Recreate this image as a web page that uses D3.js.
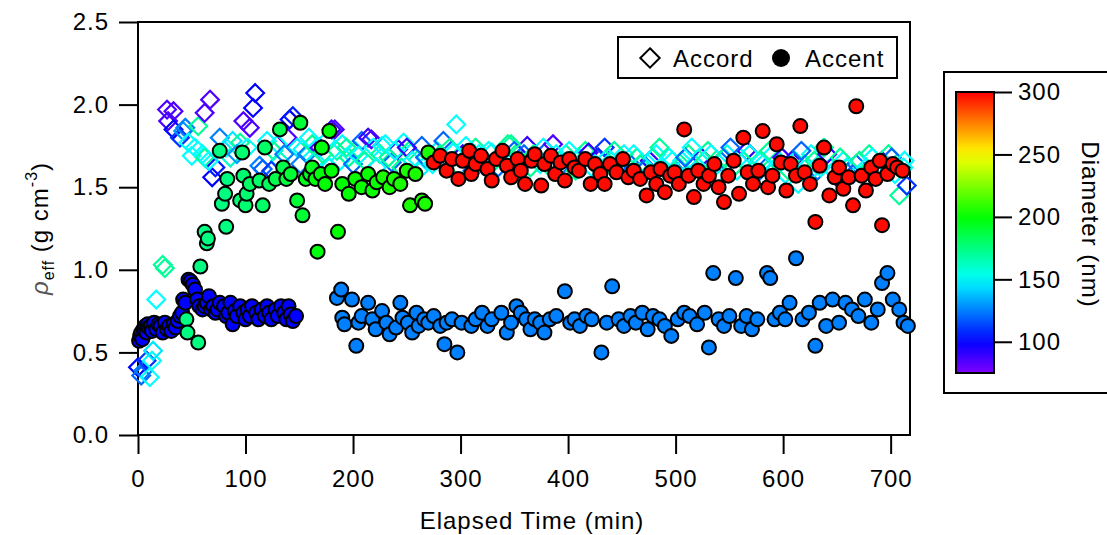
<!DOCTYPE html>
<html>
<head>
<meta charset="utf-8">
<script src="https://cdn.jsdelivr.net/npm/d3@7/dist/d3.min.js"></script>
<style>
  body { margin: 0; background: #fff; }
  text { font-family: "Liberation Sans", Arial, sans-serif; font-size: 24px; letter-spacing: 1px; fill: #000; }
</style>
</head>
<body>
<div id="chart"></div>
<script>
// Accent (filled circles): [elapsed time (min), rho_eff, diameter (nm)]
const accentSmall = [
  [1,0.57,100],[2,0.60,100],[3,0.62,100],[4,0.58,100],[5,0.64,100],[6,0.63,100],[7,0.66,100],[8,0.62,100],
  [9,0.67,100],[10,0.65,100],[12,0.66,100],[13,0.63,100],[15,0.68,100],[17,0.64,100],[19,0.67,100],[21,0.66,100],
  [23,0.62,100],[25,0.68,100],[27,0.64,100],[29,0.66,100],[31,0.63,100],[33,0.67,100],[35,0.65,100],[37,0.69,100],
  [39,0.72,100],[41,0.74,100],[42,0.82,100],[44,0.80,100],[47,0.94,100],[49,0.93,100],[51,0.91,100],[53,0.88,100],
  [55,0.82,100],[57,0.78,100],[60,0.76,100],[62,0.78,100],[64,0.80,100],[66,0.84,100],[68,0.76,100],[70,0.78,100],
  [72,0.74,100],[74,0.76,100],[76,0.80,100],[80,0.78,100],[82,0.72,100],[84,0.74,100],[86,0.80,100],[88,0.67,100],
  [90,0.75,100],[92,0.72,100],[95,0.78,100],[98,0.74,100],[100,0.70,100],[102,0.76,100],[104,0.72,100],[106,0.78,100],
  [110,0.74,100],[112,0.70,100],[115,0.76,100],[118,0.72,100],[120,0.78,100],[122,0.74,100],[124,0.70,100],[128,0.76,100],
  [130,0.72,100],[133,0.78,100],[136,0.74,100],[138,0.70,100],[140,0.78,100],[142,0.73,100],[144,0.69,100],[147,0.72,100]
];
const accentMid = [
  [45,0.70,175],[46,0.62,175],[56,0.56,175],[58,1.02,175],[62,1.23,175],[64,1.16,175],[65,1.19,175],[76,1.72,175],
  [78,1.40,175],[81,1.46,175],[82,1.26,175],[83,1.55,175],[95,1.42,178],[97,1.71,178],[98,1.57,178],[100,1.39,178],
  [101,1.46,178],[104,1.52,180],[113,1.54,180],[116,1.39,180],[118,1.74,180],[122,1.52,182],[128,1.55,185],[132,1.85,185],
  [135,1.62,185],[138,1.55,188],[142,1.58,190],[148,1.42,190],[151,1.89,190],[153,1.33,190],[156,1.55,195],[160,1.58,195],
  [162,1.62,195],[165,1.55,198],[167,1.11,198],[170,1.58,198],[171,1.74,198],[174,1.52,200],[178,1.84,200],[180,1.60,200],
  [186,1.23,200],[190,1.52,200],[196,1.46,200],[202,1.55,202],[208,1.50,202],[214,1.58,202],[218,1.48,202],[222,1.53,202],
  [228,1.56,205],[234,1.50,205],[238,1.55,205],[244,1.52,205],[250,1.60,205],[253,1.39,205],[258,1.58,205],[264,1.42,205],
  [267,1.40,205],[270,1.71,205]
];
const accentAzure = [
  [185,0.83,125],[189,0.88,125],[190,0.71,125],[192,0.67,125],[199,0.82,125],[203,0.54,125],[205,0.68,125],[208,0.72,125],
  [214,0.80,125],[218,0.70,125],[221,0.64,125],[227,0.75,125],[231,0.68,125],[234,0.61,125],[240,0.65,125],[244,0.80,125],
  [246,0.71,125],[251,0.68,125],[255,0.62,125],[259,0.74,125],[261,0.66,125],[266,0.70,125],[270,0.68,125],[275,0.72,125],
  [281,0.66,125],[285,0.55,125],[287,0.68,125],[292,0.70,125],[297,0.50,125],[301,0.68,125],[310,0.66,125],[314,0.70,125],
  [320,0.74,125],[325,0.66,125],[329,0.70,125],[338,0.74,125],[343,0.62,125],[347,0.68,125],[352,0.78,125],[356,0.74,125],
  [361,0.70,125],[365,0.64,125],[369,0.70,125],[374,0.68,125],[378,0.62,125],[383,0.70,125],[389,0.72,125],[397,0.87,125],
  [402,0.68,125],[406,0.70,125],[411,0.66,125],[417,0.72,125],[422,0.70,125],[431,0.50,125],[436,0.68,125],[441,0.90,125],
  [447,0.70,125],[452,0.66,125],[458,0.72,125],[463,0.68,125],[469,0.74,125],[474,0.64,125],[479,0.72,125],[485,0.70,125],
  [490,0.66,125],[496,0.60,125],[502,0.70,125],[508,0.74,125],[513,0.72,125],[520,0.67,125],[527,0.74,125],[531,0.53,125],
  [535,0.98,125],[540,0.70,125],[545,0.66,125],[550,0.72,125],[556,0.95,125],[561,0.66,125],[566,0.72,125],[571,0.64,125],
  [576,0.70,125],[585,0.98,125],[588,0.95,125],[592,0.70,125],[597,0.74,125],[602,0.70,125],[606,0.80,125],[612,1.07,125],
  [618,0.70,125],[624,0.74,125],[630,0.54,125],[634,0.80,125],[640,0.66,125],[646,0.82,125],[652,0.68,125],[658,0.80,125],
  [664,0.76,125],[670,0.72,125],[676,0.82,125],[682,0.68,125],[688,0.76,125],[692,0.92,125],[697,0.98,125],[702,0.82,125],
  [708,0.76,125],[712,0.68,125],[716,0.66,125]
];
const accentLarge = [
  [275,1.65,298],[281,1.69,298],[287,1.60,298],[292,1.67,298],[298,1.55,298],[302,1.66,298],[308,1.72,298],[310,1.58,298],
  [314,1.64,298],[319,1.69,298],[325,1.61,298],[329,1.54,298],[333,1.67,298],[339,1.72,298],[343,1.63,298],[347,1.56,298],
  [353,1.67,298],[356,1.60,298],[360,1.52,298],[366,1.66,298],[369,1.70,298],[375,1.51,298],[378,1.64,298],[384,1.69,298],
  [388,1.58,298],[393,1.65,298],[397,1.54,298],[401,1.67,298],[406,1.62,298],[410,1.60,298],[416,1.67,298],[421,1.52,298],
  [425,1.64,298],[430,1.58,298],[434,1.52,298],[439,1.64,298],[445,1.59,298],[451,1.67,298],[456,1.56,298],[461,1.60,298],
  [467,1.55,298],[473,1.45,298],[477,1.59,298],[482,1.52,298],[486,1.61,298],[490,1.47,298],[495,1.57,298],[499,1.59,298],
  [503,1.52,298],[508,1.85,298],[512,1.57,298],[517,1.44,298],[521,1.60,298],[526,1.52,298],[531,1.57,298],[536,1.64,298],
  [540,1.50,298],[545,1.41,298],[549,1.57,298],[554,1.66,298],[559,1.46,298],[563,1.80,298],[567,1.59,298],[572,1.52,298],
  [577,1.60,298],[581,1.84,298],[586,1.50,298],[590,1.57,298],[594,1.76,298],[598,1.65,298],[603,1.48,298],[607,1.64,298],
  [612,1.57,298],[616,1.87,298],[620,1.59,298],[625,1.52,298],[630,1.29,298],[634,1.63,298],[638,1.74,298],[643,1.45,298],
  [648,1.56,298],[652,1.62,298],[656,1.49,298],[661,1.56,298],[665,1.39,298],[668,1.99,298],[673,1.57,298],[677,1.48,298],
  [682,1.62,298],[686,1.55,298],[690,1.66,298],[692,1.27,298],[697,1.58,298],[702,1.64,298],[706,1.62,298],[711,1.60,298]
];

// Accord (open diamonds): [elapsed time (min), rho_eff, diameter (nm)]
const accordEarly = [
  [0,0.41,100],[3,0.36,120],[5,0.39,125],[8,0.45,110],[11,0.35,150],[13,0.45,150],[14,0.51,145],[17,0.82,150],
  [23,1.03,170],[25,1.01,170],[27,1.97,85],[28,1.90,85],[33,1.96,85],[33,1.85,100],[39,1.80,110],[42,1.84,130],
  [44,1.86,125],[47,1.77,150],[50,1.69,150],[56,1.87,170],[60,1.70,150],[62,1.95,85],[62,1.68,170],[67,2.03,85],
  [69,1.56,100],[72,1.62,105],[76,1.80,125],[82,1.74,150],[88,1.78,145],[95,1.77,170],[98,1.90,85],[104,1.86,85],
  [107,1.98,100],[109,2.07,100],[113,1.63,125],[116,1.61,120],[120,1.78,150],[126,1.72,170],[132,1.66,160],[139,1.80,85],
  [141,1.91,100],[144,1.93,105],[148,1.74,145],[53,1.74,150],[66,1.66,150],[86,1.68,160],[92,1.70,130],[102,1.74,150],
  [124,1.60,110],[130,1.76,150],[136,1.70,125]
];
const accordLate = [
  [153,1.73,150],[157,1.70,125],[162,1.76,170],[169,1.74,85],[175,1.78,150],
  [180,1.85,90],[185,1.72,170],[190,1.76,150],[196,1.68,170],[202,1.72,150],[208,1.78,120],[214,1.80,90],[219,1.74,150],
  [225,1.70,170],[230,1.76,150],[236,1.65,120],[242,1.73,90],[247,1.77,150],[252,1.72,170],[258,1.68,150],[264,1.75,120],
  [270,1.70,160],[278,1.72,150],[284,1.78,120],[290,1.74,170],[296,1.88,150],[302,1.70,90],[308,1.66,150],[314,1.74,170],
  [320,1.68,120],[326,1.72,150],[332,1.66,170],[338,1.70,150],[344,1.76,170],[350,1.72,120],[356,1.68,150],[362,1.75,90],
  [368,1.70,170],[374,1.64,150],[380,1.72,120],[386,1.76,85],[392,1.66,150],[398,1.70,170],[404,1.64,120],[410,1.68,150],
  [416,1.72,170],[422,1.62,150],[428,1.68,100],[434,1.74,110],[440,1.66,150],[446,1.62,170],[452,1.70,150],[458,1.64,120],
  [464,1.68,170],[470,1.60,150],[476,1.66,90],[482,1.70,150],[488,1.62,170],[494,1.68,150],[500,1.60,120],[506,1.66,150],
  [512,1.70,170],[518,1.64,150],[524,1.68,90],[530,1.72,170],[536,1.62,150],[542,1.66,120],[548,1.70,150],[554,1.62,170],
  [560,1.68,150],[566,1.72,90],[572,1.60,150],[578,1.66,170],[584,1.62,120],[590,1.70,150],[596,1.64,170],[602,1.58,150],
  [608,1.66,90],[614,1.52,150],[620,1.64,170],[626,1.70,150],[632,1.60,120],[638,1.74,170],[644,1.62,150],[650,1.56,90],
  [656,1.66,150],[662,1.60,170],[668,1.64,120],[674,1.58,150],[680,1.70,170],[686,1.62,150],[692,1.66,90],[698,1.70,170],
  [704,1.58,150],[708,1.45,170],[712,1.62,150],[715,1.51,110],
  [151,1.64,125],[159,1.80,150],[165,1.66,150],[172,1.70,170],[178,1.62,150],[183,1.85,85],[188,1.66,150],[194,1.74,170],
  [200,1.64,120],[205,1.69,150],[211,1.66,170],[217,1.79,85],[222,1.62,150],[227,1.75,150],[233,1.68,170],[239,1.72,150],
  [245,1.62,170],[250,1.74,90],[255,1.66,150],[261,1.60,150],[267,1.68,120],[274,1.64,150],[281,1.70,170],[287,1.64,150],
  [293,1.71,150],[299,1.62,170],[305,1.75,150],[311,1.60,120],[317,1.70,150],[323,1.64,170],[329,1.71,150],[335,1.62,120],
  [341,1.68,150],[347,1.76,170],[353,1.64,150],[359,1.70,120],[365,1.62,170],[371,1.68,150],[377,1.74,150],[383,1.62,170],
  [389,1.70,150],[395,1.64,120],[401,1.72,150],[407,1.60,170],[413,1.66,150],[419,1.71,90],[425,1.64,150],[431,1.60,170],
  [437,1.68,150],[443,1.72,170],[449,1.64,120],[455,1.60,150],[461,1.70,150],[467,1.64,170],[473,1.62,120],[479,1.68,150],
  [485,1.74,170],[491,1.60,150],[497,1.66,150],[503,1.62,170],[509,1.68,120],[515,1.74,150],[521,1.62,150],[527,1.66,170],
  [533,1.70,150],[539,1.58,150],[545,1.68,170],[551,1.74,120],[557,1.60,150],[563,1.66,170],[569,1.70,150],[575,1.58,120],
  [581,1.64,150],[587,1.72,170],[593,1.62,150],[599,1.68,90],[605,1.60,170],[611,1.66,150],[617,1.72,120],[623,1.58,150],
  [629,1.66,170],[635,1.62,150],[641,1.70,90],[647,1.60,150],[653,1.68,170],[659,1.62,150],[665,1.58,120],[671,1.66,170],
  [677,1.62,150],[683,1.68,150],[689,1.60,170],[695,1.64,150],[701,1.68,120],[707,1.62,170],[713,1.66,150]
];

const yTicks = [0, 0.5, 1.0, 1.5, 2.0, 2.5];
const xTicks = [0, 100, 200, 300, 400, 500, 600, 700];
const diamTicks = [100, 150, 200, 250, 300];

const W = 1107, H = 535;
const plot = {left: 138, top: 22, right: 910, bottom: 435};

const svg = d3.select("#chart").append("svg")
  .attr("width", W).attr("height", H);

const x = d3.scaleLinear().domain([0, 718]).range([plot.left, plot.right]);
const y = d3.scaleLinear().domain([0, 2.5]).range([plot.bottom, plot.top]);

// rainbow from purple (small) to red (large)
const color = d3.scaleSequential(t => d3.hsl(270 * (1 - t), 1, 0.5).toString())
  .domain([75, 300]);

// frame
svg.append("rect")
  .attr("x", plot.left).attr("y", plot.top)
  .attr("width", plot.right - plot.left).attr("height", plot.bottom - plot.top)
  .attr("fill", "none").attr("stroke", "#000").attr("stroke-width", 2);

const yAxis = d3.axisLeft(y).tickValues(yTicks).tickFormat(d3.format(".1f"))
  .tickSize(19).tickSizeOuter(0).tickPadding(10);
svg.append("g").attr("transform", "translate(" + plot.left + ",0)").call(yAxis);

const xAxis = d3.axisBottom(x).tickValues(xTicks).tickFormat(d3.format("d"))
  .tickSize(19).tickSizeOuter(0).tickPadding(16);
svg.append("g").attr("transform", "translate(0," + plot.bottom + ")").call(xAxis);

svg.selectAll(".domain").remove();
svg.selectAll(".tick line").attr("stroke", "#000").attr("stroke-width", 2);
svg.selectAll(".tick text").style("font-size", "24px").attr("fill", "#000");

svg.append("text")
  .attr("x", (plot.left + plot.right) / 2 + 8).attr("y", 529)
  .attr("text-anchor", "middle")
  .text("Elapsed Time (min)");

const yTitle = svg.append("text")
  .attr("transform", "translate(48," + (plot.top + plot.bottom) / 2 + ") rotate(-90)")
  .attr("text-anchor", "middle");
yTitle.append("tspan").text("\u03c1").style("font-style", "italic").attr("fill", "#555");
yTitle.append("tspan").text("eff").attr("dy", 6).style("font-size", "16px");
yTitle.append("tspan").text(" (g cm").attr("dy", -6);
yTitle.append("tspan").text("-3").attr("dy", -11).style("font-size", "16px");
yTitle.append("tspan").text(")").attr("dy", 11);

// markers: diamonds underneath, circles on top
const g = svg.append("g");
const diamond = d3.symbol().type(d3.symbolDiamond2).size(200);

g.selectAll(".accord")
  .data(accordEarly.concat(accordLate))
  .enter()
  .append("path")
  .attr("class", "accord")
  .attr("d", diamond)
  .attr("transform", function(d) { return "translate(" + x(d[0]) + "," + y(d[1]) + ")"; })
  .attr("fill", "none")
  .attr("stroke", function(d) { return color(d[2]); })
  .attr("stroke-width", 2.2);

const accentAll = accentSmall.concat(accentMid, accentAzure, accentLarge);
g.selectAll(".accent")
  .data(accentAll)
  .enter()
  .append("circle")
  .attr("class", "accent")
  .attr("cx", function(d) { return x(d[0]); })
  .attr("cy", function(d) { return y(d[1]); })
  .attr("r", 7)
  .attr("fill", function(d) { return color(d[2]); })
  .attr("stroke", "#000")
  .attr("stroke-width", 2);

// legend
const leg = svg.append("g");
leg.append("rect")
  .attr("x", 618).attr("y", 37).attr("width", 279).attr("height", 41)
  .attr("fill", "#fff").attr("stroke", "#000").attr("stroke-width", 2);
leg.append("path").attr("d", d3.symbol().type(d3.symbolDiamond2).size(240))
  .attr("transform", "translate(650,58)")
  .attr("fill", "none").attr("stroke", "#000").attr("stroke-width", 2);
leg.append("text").attr("x", 673).attr("y", 67).text("Accord");
leg.append("circle").attr("cx", 781).attr("cy", 58).attr("r", 9).attr("fill", "#000");
leg.append("text").attr("x", 805).attr("y", 67).text("Accent");

// color scale
const cb = {left: 956, top: 92, width: 38, bottom: 373};
svg.append("rect")
  .attr("x", 944).attr("y", 72).attr("width", 200).attr("height", 321)
  .attr("fill", "none").attr("stroke", "#000").attr("stroke-width", 2);

const defs = svg.append("defs");
const grad = defs.append("linearGradient").attr("id", "diamGrad")
  .attr("x1", 0).attr("y1", 1).attr("x2", 0).attr("y2", 0);
d3.range(0, 1.0001, 0.05).forEach(function(t) {
  grad.append("stop").attr("offset", t).attr("stop-color", color(75 + t * 225));
});
svg.append("rect")
  .attr("x", cb.left).attr("y", cb.top).attr("width", cb.width).attr("height", cb.bottom - cb.top)
  .attr("fill", "url(#diamGrad)").attr("stroke", "#000").attr("stroke-width", 2);

const cScale = d3.scaleLinear().domain([75, 300]).range([cb.bottom, cb.top]);
const cAxis = d3.axisRight(cScale).tickValues(diamTicks).tickSize(18).tickSizeOuter(0).tickPadding(6);
const cg = svg.append("g").attr("transform", "translate(" + (cb.left + cb.width) + ",0)").call(cAxis);
cg.select(".domain").remove();
cg.selectAll(".tick line").attr("stroke", "#000").attr("stroke-width", 2);
cg.selectAll(".tick text").style("font-size", "24px").attr("fill", "#000");

svg.append("text")
  .attr("transform", "translate(1082," + ((cb.top + cb.bottom) / 2 - 8) + ") rotate(90)")
  .attr("text-anchor", "middle")
  .text("Diameter (nm)");
</script>
</body>
</html>
